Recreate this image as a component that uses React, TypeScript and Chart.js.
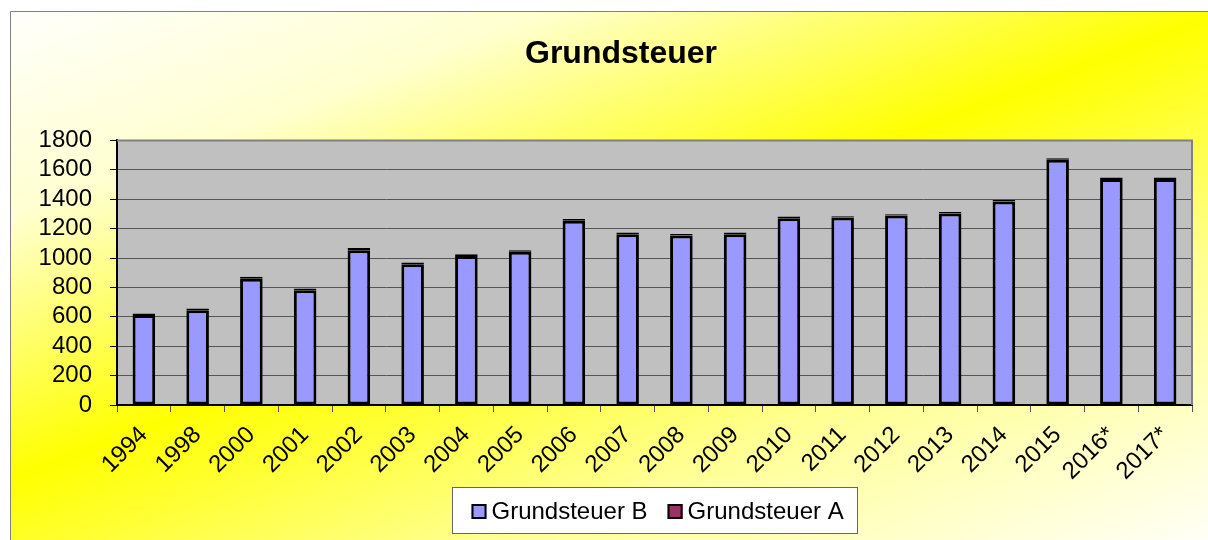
import React, { useEffect, useRef } from "react";
import { Chart, registerables } from "chart.js";

Chart.register(...registerables);

const categories = ["1994", "1998", "2000", "2001", "2002", "2003", "2004", "2005", "2006", "2007", "2008", "2009", "2010", "2011", "2012", "2013", "2014", "2015", "2016*", "2017*"];
const grundsteuerB = [612, 644, 858, 781, 1053, 958, 1014, 1042, 1253, 1162, 1153, 1162, 1271, 1275, 1289, 1303, 1385, 1669, 1537, 1537];
const grundsteuerA = [10, 13, 15, 12, 15, 12, 11, 10, 13, 11, 11, 11, 11, 9, 8, 10, 10, 10, 10, 10];
const seriesLabels = ["Grundsteuer B", "Grundsteuer A"];
const seriesColors = ["#9999ff", "#993366"];
const yMin = 0;
const yMax = 1800;
const yStep = 200;
const titleText = "Grundsteuer";

const FONT = "'Liberation Sans', Arial, sans-serif";
const W = 1208;
const H = 540;

const decorPlugin = {
  id: "decor",
  afterLayout(chart: any) {
    const t = chart.titleBlock;
    if (t) {
      t.left = 50;
      t.right = 1192;
    }
  },
  beforeDraw(chart: any) {
    const ctx = chart.ctx;
    const ca = chart.chartArea;
    ctx.save();
    ctx.fillStyle = "#ffffff";
    ctx.fillRect(0, 0, W, H);
    const g = ctx.createLinearGradient(0, 0, 338, 877);
    g.addColorStop(0, "#ffffff");
    g.addColorStop(0.22, "#ffffd0");
    g.addColorStop(0.48, "#ffff00");
    g.addColorStop(0.72, "#ffff90");
    g.addColorStop(1, "#fffff8");
    ctx.fillStyle = g;
    ctx.fillRect(10, 11, W - 10, H - 11);
    ctx.strokeStyle = "#808080";
    ctx.lineWidth = 1;
    ctx.beginPath();
    ctx.moveTo(10.5, H);
    ctx.lineTo(10.5, 11.5);
    ctx.lineTo(W, 11.5);
    ctx.stroke();
    ctx.fillStyle = "#c0c0c0";
    ctx.fillRect(ca.left, ca.top, ca.right - ca.left, ca.bottom - ca.top);
    ctx.restore();
  },
  afterDraw(chart: any) {
    const ctx = chart.ctx;
    const ca = chart.chartArea;
    ctx.save();
    ctx.strokeStyle = "#808080";
    ctx.lineWidth = 2;
    ctx.beginPath();
    ctx.moveTo(ca.left, ca.top);
    ctx.lineTo(ca.right, ca.top);
    ctx.lineTo(ca.right, ca.bottom);
    ctx.stroke();

    const boxW = 405;
    const boxH = 46;
    const cx = (ca.left + ca.right) / 2;
    const bx = Math.round(cx - boxW / 2) + 0.5;
    const by = 487.5;
    ctx.fillStyle = "#ffffff";
    ctx.fillRect(bx, by, boxW, boxH);
    ctx.strokeStyle = "#666666";
    ctx.lineWidth = 1;
    ctx.strokeRect(bx, by, boxW, boxH);
    ctx.font = `24px ${FONT}`;
    ctx.textBaseline = "middle";
    ctx.textAlign = "left";
    let x = bx + 19;
    const midY = by + 24;
    chart.data.datasets.forEach((ds: any) => {
      ctx.fillStyle = ds.backgroundColor;
      ctx.fillRect(x, midY - 7.5, 15, 15);
      ctx.strokeStyle = "#000";
      ctx.lineWidth = 2;
      ctx.strokeRect(x + 1, midY - 6.5, 13, 13);
      ctx.fillStyle = "#000";
      ctx.fillText(ds.label, x + 20, midY + 1);
      x += 20 + ctx.measureText(ds.label).width + 20;
    });
    ctx.restore();
  },
};

export default function App() {
  const ref = useRef<HTMLCanvasElement | null>(null);
  useEffect(() => {
    document.body.style.margin = "0";
    const canvas = ref.current;
    if (!canvas) return;
    const barOpts = {
      borderColor: "#000000",
      borderWidth: 3,
      borderSkipped: false,
      barPercentage: 0.42,
      categoryPercentage: 1,
    };
    const chart = new Chart(canvas, {
      type: "bar",
      data: {
        labels: categories,
        datasets: [
          { label: seriesLabels[0], data: grundsteuerB, backgroundColor: seriesColors[0], ...barOpts },
          { label: seriesLabels[1], data: grundsteuerA, backgroundColor: seriesColors[1], ...barOpts },
        ],
      },
      options: {
        responsive: false,
        animation: false,
        devicePixelRatio: 1,
        layout: { padding: { left: 10, right: 16, top: 0, bottom: 60 } },
        plugins: {
          legend: { display: false },
          tooltip: { enabled: false },
          title: {
            display: true,
            text: titleText,
            color: "#000",
            font: { family: FONT, size: 32, weight: "bold" },
            padding: { top: 35, bottom: 67 },
          },
        },
        scales: {
          x: {
            stacked: true,
            ticks: {
              color: "#000",
              font: { family: FONT, size: 24 },
              minRotation: 45,
              maxRotation: 45,
              autoSkip: false,
              padding: 9,
            },
            grid: {
              display: true,
              drawOnChartArea: false,
              drawTicks: true,
              tickLength: 7,
              tickColor: "#555555",
              offset: true,
            },
            border: { color: "#000", width: 2 },
            afterFit: (s: any) => {
              s.height = 75;
            },
          },
          y: {
            stacked: true,
            min: yMin,
            max: yMax,
            ticks: {
              stepSize: yStep,
              autoSkip: false,
              color: "#000",
              font: { family: FONT, size: 24 },
              padding: 18,
              callback: (v: any) => String(v),
            },
            grid: {
              color: "#555555",
              lineWidth: 1,
              tickLength: 7,
              tickColor: "#000",
              drawTicks: true,
            },
            border: { color: "#000", width: 2 },
            afterFit: (s: any) => {
              s.width = 107;
            },
          },
        },
      },
      plugins: [decorPlugin],
    } as any);
    return () => chart.destroy();
  }, []);
  return (
    <div style={{ position: "fixed", left: 0, top: 0, width: W, height: H }}>
      <canvas ref={ref} width={W} height={H} style={{ width: W, height: H, display: "block" }} />
    </div>
  );
}
